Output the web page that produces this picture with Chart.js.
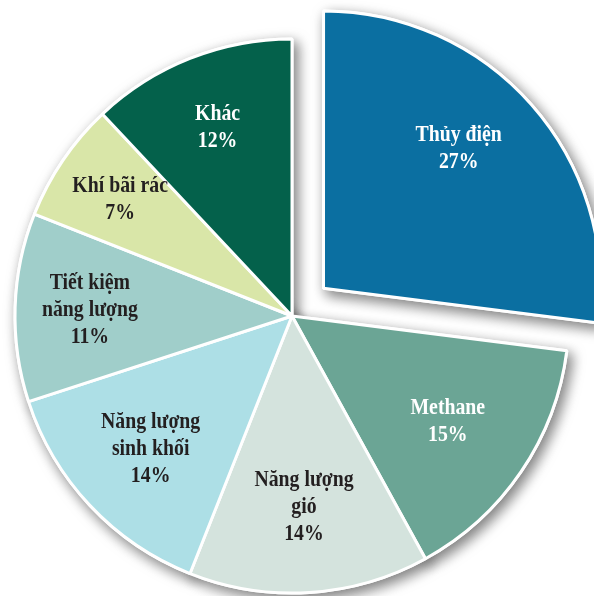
<!DOCTYPE html>
<html>
<head>
<meta charset="utf-8">
<script src="https://cdn.jsdelivr.net/npm/chart.js@4.4.1/dist/chart.umd.min.js"></script>
<style>
  html, body { margin: 0; padding: 0; background: #fff; overflow: hidden; width: 594px; height: 596px; }
  #wrap { position: absolute; left: -58px; top: -34px; width: 700px; height: 700px; }
</style>
</head>
<body>
<div id="wrap"><canvas id="pie" width="700" height="700"></canvas></div>
<script>
/* Energy share pie, one slice pulled out */
var categories = ['Thủy điện', 'Methane', 'Năng lượng gió', 'Năng lượng sinh khối', 'Tiết kiệm năng lượng', 'Khí bãi rác', 'Khác'];
var shares = [27, 15, 14, 14, 11, 7, 12];
var labelLines = [['Thủy điện'], ['Methane'], ['Năng lượng', 'gió'], ['Năng lượng', 'sinh khối'], ['Tiết kiệm', 'năng lượng'], ['Khí bãi rác'], ['Khác']];

var sliceColors = ['#0b6fa1', '#6ba595', '#d4e3dd', '#addfe6', '#a0ceca', '#d9e6a8', '#04614b'];
var textColors = ['#ffffff', '#ffffff', '#231f20', '#231f20', '#231f20', '#231f20', '#ffffff'];

/* drop shadow under the whole pie, drawn once before the real slices */
var pieShadow = {
  id: 'pieShadow',
  beforeDatasetsDraw: function (chart) {
    var ctx = chart.ctx;
    var meta = chart.getDatasetMeta(0);
    ctx.save();
    ctx.shadowColor = 'rgba(0,0,0,0.5)';
    ctx.shadowBlur = 13;
    ctx.shadowOffsetX = 4;
    ctx.shadowOffsetY = 5;
    meta.data.forEach(function (arc) { arc.draw(ctx); });
    ctx.restore();
  }
};

/* slice labels: name lines plus percent, narrow serif look */
var sliceLabels = {
  id: 'sliceLabels',
  afterDatasetsDraw: function (chart, args, opts) {
    var ctx = chart.ctx;
    var meta = chart.getDatasetMeta(0);
    ctx.save();
    ctx.font = 'bold 23px "Liberation Serif", "Times New Roman", serif';
    ctx.textAlign = 'center';
    ctx.textBaseline = 'middle';
    meta.data.forEach(function (arc, i) {
      var p = arc.getProps(['x', 'y', 'startAngle', 'endAngle', 'outerRadius', 'circumference']);
      var mid = (p.startAngle + p.endAngle) / 2;
      var off = (arc.options.offset || 0) / 4;
      off = off + off * (1 - Math.sin(Math.min(Math.PI, p.circumference)));
      var ex = p.x + Math.cos(mid) * off, ey = p.y + Math.sin(mid) * off;
      var a = mid + (opts.nudge[i] || 0) * Math.PI / 180;
      var r = p.outerRadius * opts.radial[i];
      var cx = ex + Math.cos(a) * r;
      var cy = ey + Math.sin(a) * r;
      var lines = labelLines[i].concat([shares[i] + '%']);
      var lh = 27;
      var y0 = cy - (lines.length - 1) * lh / 2;
      ctx.fillStyle = textColors[i];
      lines.forEach(function (t, k) {
        ctx.save();
        ctx.translate(cx, y0 + k * lh);
        ctx.scale(0.86, 1);
        ctx.fillText(t, 0, 0);
        ctx.restore();
      });
    });
    ctx.restore();
  }
};

new Chart(document.getElementById('pie'), {
  type: 'pie',
  data: {
    labels: categories,
    datasets: [{
      data: shares,
      backgroundColor: sliceColors,
      borderColor: '#ffffff',
      borderWidth: 3,
      offset: [168, 0, 0, 0, 0, 0, 0],
      hoverOffset: 0
    }]
  },
  options: {
    responsive: false,
    animation: false,
    radius: 277,
    layout: { padding: 0 },
    plugins: {
      legend: { display: false },
      tooltip: { enabled: false },
      sliceLabels: {
        radial: [0.70, 0.68, 0.69, 0.70, 0.73, 0.75, 0.73],
        nudge: [-4.5, 0, 0, 0, 0, 0, 0]
      }
    }
  },
  plugins: [pieShadow, sliceLabels]
});
</script>
</body>
</html>
